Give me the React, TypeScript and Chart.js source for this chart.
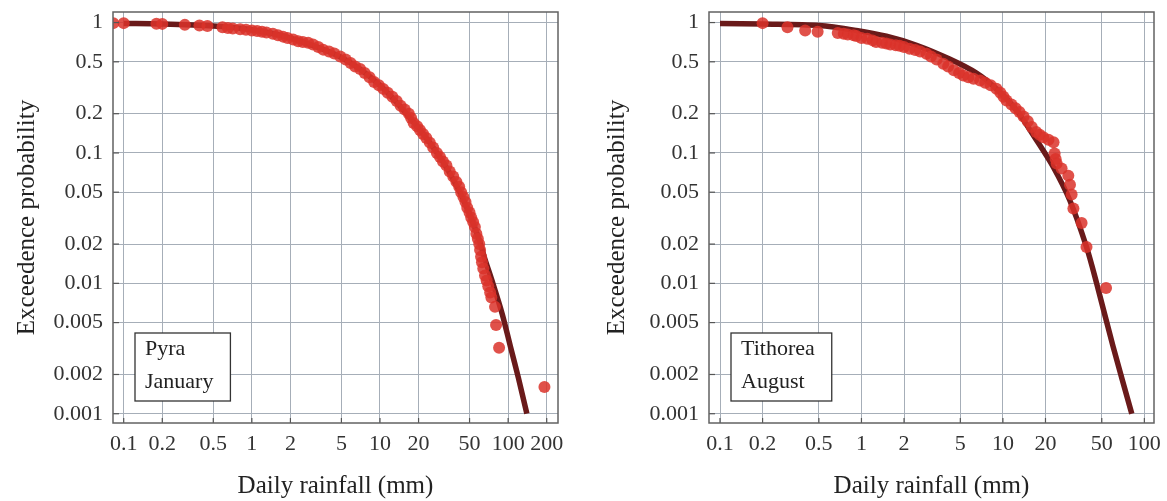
import React, { useEffect, useRef } from 'react';
import { Chart, registerables } from 'chart.js';

Chart.register(...registerables);

// ---- tick values ----
const pyraXTicks = [0.1, 0.2, 0.5, 1, 2, 5, 10, 20, 50, 100, 200];
const tithoreaXTicks = [0.1, 0.2, 0.5, 1, 2, 5, 10, 20, 50, 100];
const yTicks = [1, 0.5, 0.2, 0.1, 0.05, 0.02, 0.01, 0.005, 0.002, 0.001];

// ---- Pyra, January: observed exceedance ----
const pyraObsX = [
  0.083, 0.1, 0.18, 0.2, 0.3, 0.39, 0.45, 0.59, 0.65, 0.71, 0.81, 0.9,
  1.0, 1.1, 1.2, 1.3, 1.46, 1.6, 1.75, 1.9, 2.1, 2.3, 2.5, 2.75, 3.0, 3.3,
  3.6, 4.0, 4.4, 4.9, 5.4, 5.9, 6.4, 7.0, 7.6, 8.3, 9.0, 9.8, 10.6, 11.5,
  12.5, 13.5, 14.5, 15.6, 16.8, 17.5, 18.3, 19.5, 20.5, 21.7, 23, 24.5, 26,
  27.8, 29.4, 31, 33, 35, 37.3, 39.5, 41.5, 43, 44.8, 46.5, 48, 50, 51.5,
  53.3, 55, 56.5, 58, 59.5, 60.4, 61.5, 62.5, 64, 66, 68, 70, 72.4, 74, 79,
  80.5, 85, 192,
];
const pyraObsP = [
  0.99, 0.99, 0.98, 0.977, 0.96, 0.95, 0.94, 0.92, 0.91, 0.9, 0.89, 0.88,
  0.87, 0.86, 0.85, 0.84, 0.82, 0.8, 0.78, 0.76, 0.74, 0.72, 0.71, 0.7, 0.68, 0.65,
  0.62, 0.6, 0.58, 0.55, 0.52, 0.49, 0.46, 0.44, 0.41, 0.38, 0.35, 0.33, 0.31, 0.29,
  0.27, 0.25, 0.23, 0.215, 0.2, 0.185, 0.17, 0.16, 0.15, 0.14, 0.13, 0.12, 0.11,
  0.1, 0.093, 0.086, 0.08, 0.072, 0.066, 0.06, 0.055, 0.05, 0.046, 0.042, 0.038, 0.035, 0.032,
  0.0295, 0.027, 0.024, 0.022, 0.02, 0.018, 0.016, 0.0145, 0.013, 0.0115, 0.0105, 0.0095, 0.0085, 0.0078, 0.0066,
  0.0048, 0.0032, 0.0016,
];
// ---- Pyra, January: fitted curve ----
const pyraFitX = [0.1, 0.2, 0.5, 1, 2, 5, 10, 20, 30, 40, 50, 60, 65, 76, 90, 104, 120, 140];
const pyraFitP = [0.985, 0.975, 0.94, 0.88, 0.76, 0.54, 0.33, 0.155, 0.09, 0.055, 0.034, 0.021, 0.016, 0.01, 0.0058, 0.0033, 0.0019, 0.001];

// ---- Tithorea, August: observed exceedance ----
const tithoreaObsX = [
  0.2, 0.3, 0.4, 0.49, 0.68, 0.75, 0.8, 0.88, 0.92, 1.0, 1.1, 1.2, 1.27, 1.4,
  1.5, 1.6, 1.75, 1.86, 2.0, 2.19, 2.4, 2.6, 2.88, 3.1, 3.4, 3.79, 4.1, 4.5,
  4.9, 5.25, 5.7, 6.2, 6.9, 7.5, 8.2, 9.0, 9.6, 10.1, 10.6, 11.5, 12.3, 13.1,
  14, 15, 16, 17.2, 18.2, 19.3, 21, 22.8, 23.2, 23.6, 24, 26, 29, 29.8, 30.6,
  31.5, 36, 39, 53.6,
];
const tithoreaObsP = [
  0.99, 0.92, 0.87, 0.85, 0.83, 0.82, 0.81, 0.8, 0.79, 0.76, 0.75, 0.73, 0.71, 0.7,
  0.69, 0.68, 0.67, 0.665, 0.65, 0.63, 0.615, 0.6, 0.576, 0.55, 0.52, 0.483, 0.46, 0.43,
  0.41, 0.393, 0.38, 0.37, 0.36, 0.345, 0.33, 0.311, 0.29, 0.27, 0.253, 0.235, 0.22, 0.206,
  0.19, 0.175, 0.158, 0.145, 0.138, 0.132, 0.126, 0.121, 0.099, 0.09, 0.083, 0.076, 0.067, 0.057, 0.048,
  0.0375, 0.029, 0.019, 0.0092,
];
// ---- Tithorea, August: fitted curve ----
const tithoreaFitX = [0.1, 0.2, 0.5, 0.92, 1.5, 2.45, 4.2, 6.5, 9, 12.5, 17.3, 22.7, 29.8, 39, 46, 60, 81.5];
const tithoreaFitP = [0.985, 0.975, 0.95, 0.87, 0.785, 0.67, 0.525, 0.41, 0.31, 0.212, 0.125, 0.078, 0.043, 0.019, 0.01, 0.0033, 0.001];

const FONT = "'Liberation Serif', 'Times New Roman', serif";
const GRID = '#a6aeb8';
const FRAME = '#626262';
const DOT = 'rgba(219,50,42,0.85)';
const FIT = '#6a1a1a';

type Panel = {
  name: string[];
  obsX: number[];
  obsP: number[];
  fitX: number[];
  fitP: number[];
  xTicks: number[];
  xMin: number;
  xMax: number;
  yAxisWidth: number;
  padRight: number;
  width: number;
};

const panels: Panel[] = [
  {
    name: ['Pyra', 'January'],
    obsX: pyraObsX,
    obsP: pyraObsP,
    fitX: pyraFitX,
    fitP: pyraFitP,
    xTicks: pyraXTicks,
    xMin: 0.0825,
    xMax: 245,
    yAxisWidth: 113,
    padRight: 32,
    width: 590,
  },
  {
    name: ['Tithorea', 'August'],
    obsX: tithoreaObsX,
    obsP: tithoreaObsP,
    fitX: tithoreaFitX,
    fitP: tithoreaFitP,
    xTicks: tithoreaXTicks,
    xMin: 0.0836,
    xMax: 117,
    yAxisWidth: 119,
    padRight: 13,
    width: 577,
  },
];

const framePlugin = {
  id: 'frameAndLabel',
  afterDatasetsDraw(chart: any, _args: any, opts: any) {
    const { ctx, chartArea } = chart;
    const { left, top, right, bottom } = chartArea;
    ctx.save();
    // inward tick marks
    ctx.strokeStyle = '#555';
    ctx.lineWidth = 1.2;
    const xs = chart.scales.x;
    const ys = chart.scales.y;
    xs.ticks.forEach((t: any) => {
      const px = xs.getPixelForValue(t.value);
      ctx.beginPath();
      ctx.moveTo(px, bottom);
      ctx.lineTo(px, bottom - 5);
      ctx.stroke();
    });
    ys.ticks.forEach((t: any) => {
      const py = ys.getPixelForValue(t.value);
      ctx.beginPath();
      ctx.moveTo(left, py);
      ctx.lineTo(left + 6, py);
      ctx.stroke();
    });
    // frame
    ctx.strokeStyle = FRAME;
    ctx.lineWidth = 1.5;
    ctx.strokeRect(left, top, right - left, bottom - top);
    // label box
    const lines: string[] = opts.lines || [];
    ctx.font = `22px ${FONT}`;
    const tw = Math.max(...lines.map((l) => ctx.measureText(l).width));
    const bw = tw + 27;
    const bh = 68;
    const bx = left + 22;
    const by = bottom - 22 - bh;
    ctx.fillStyle = '#fff';
    ctx.fillRect(bx, by, bw, bh);
    ctx.strokeStyle = '#333';
    ctx.lineWidth = 1.3;
    ctx.strokeRect(bx, by, bw, bh);
    ctx.fillStyle = '#222';
    ctx.textBaseline = 'middle';
    ctx.textAlign = 'left';
    lines.forEach((l, i) => {
      ctx.fillText(l, bx + 10, by + 16 + i * 33);
    });
    ctx.restore();
  },
};

function makeChart(canvas: HTMLCanvasElement, p: Panel) {
  return new Chart(canvas, {
    type: 'scatter',
    data: {
      datasets: [
        {
          type: 'scatter',
          label: 'observed',
          data: p.obsX.map((x, i) => ({ x, y: p.obsP[i] })),
          pointRadius: 6,
          pointHoverRadius: 6,
          backgroundColor: DOT,
          borderWidth: 0,
          order: 1,
          clip: 0,
        } as any,
        {
          type: 'line',
          label: 'fit',
          data: p.fitX.map((x, i) => ({ x, y: p.fitP[i] })),
          borderColor: FIT,
          borderWidth: 5.5,
          pointRadius: 0,
          tension: 0.3,
          fill: false,
          order: 2,
          clip: 0,
        } as any,
      ],
    },
    options: {
      responsive: false,
      animation: false,
      devicePixelRatio: 1,
      layout: { padding: { top: 12, right: p.padRight, left: 0, bottom: 0 } },
      plugins: {
        legend: { display: false },
        tooltip: { enabled: false },
        frameAndLabel: { lines: p.name },
      } as any,
      scales: {
        x: {
          type: 'logarithmic',
          position: 'bottom',
          min: p.xMin,
          max: p.xMax,
          afterBuildTicks: (s: any) => {
            s.ticks = p.xTicks.map((v) => ({ value: v }));
          },
          afterFit: (s: any) => {
            s.height = 78;
            s.paddingLeft = 0;
            s.paddingRight = 0;
          },
          ticks: {
            autoSkip: false,
            maxRotation: 0,
            minRotation: 0,
            padding: 8,
            color: '#333',
            font: { family: FONT, size: 22 },
            callback: (v: any) => String(v),
          },
          grid: { color: GRID, lineWidth: 1, drawTicks: false },
          border: { display: false },
          title: {
            display: true,
            text: 'Daily rainfall (mm)',
            color: '#222',
            font: { family: FONT, size: 25 },
            padding: { top: 0, bottom: 0 },
          },
        },
        y: {
          type: 'logarithmic',
          position: 'left',
          min: 0.000849,
          max: 1.205,
          afterBuildTicks: (s: any) => {
            s.ticks = yTicks.map((v) => ({ value: v }));
          },
          afterFit: (s: any) => {
            s.width = p.yAxisWidth;
            s.paddingTop = 0;
            s.paddingBottom = 0;
          },
          ticks: {
            autoSkip: false,
            padding: 10,
            color: '#333',
            font: { family: FONT, size: 22 },
            callback: (v: any) => String(v),
          },
          grid: { color: GRID, lineWidth: 1, drawTicks: false },
          border: { display: false },
          title: {
            display: true,
            text: 'Exceedence probability',
            color: '#222',
            font: { family: FONT, size: 25 },
            padding: { top: 12, bottom: 0 },
          },
        },
      },
    } as any,
    plugins: [framePlugin],
  });
}

function PanelChart({ panel }: { panel: Panel }) {
  const ref = useRef<HTMLCanvasElement | null>(null);
  useEffect(() => {
    if (!ref.current) return;
    const c = makeChart(ref.current, panel);
    return () => c.destroy();
  }, [panel]);
  return (
    <canvas
      ref={ref}
      width={panel.width}
      height={501}
      style={{ display: 'block', width: panel.width, height: 501 }}
    />
  );
}

export default function App() {
  return (
    <div
      style={{
        position: 'absolute',
        left: 0,
        top: 0,
        width: 1167,
        height: 501,
        display: 'flex',
        background: '#fff',
      }}
    >
      <PanelChart panel={panels[0]} />
      <PanelChart panel={panels[1]} />
    </div>
  );
}
